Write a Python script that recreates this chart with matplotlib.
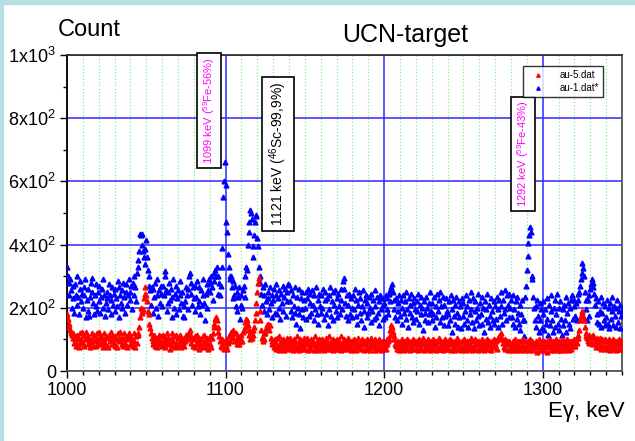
import numpy as np
import matplotlib
matplotlib.use("Agg")
import matplotlib.pyplot as plt
from matplotlib.patches import Rectangle
from matplotlib.ticker import MultipleLocator

plt.rcParams['font.family'] = ['Liberation Sans', 'DejaVu Sans']
plt.rcParams['mathtext.default'] = 'regular'

# energy channels, 0.5 keV step
energy = np.arange(1000.0, 1350.01, 0.5)

# au-1.dat* (blue), counts per channel
au1 = [
    330, 300, 280, 240, 290, 255, 200, 270, 230, 185, 275, 240, 210, 300, 235, 180, 260, 285, 220, 245,
    200, 265, 240, 290, 170, 225, 190, 260, 175, 235, 280, 295, 250, 215, 180, 240, 205, 275, 190, 250,
    220, 270, 185, 235, 260, 200, 290, 240, 175, 215, 250, 230, 195, 275, 240, 180, 225, 265, 210, 245,
    190, 260, 230, 205, 285, 170, 265, 240, 215, 255, 200, 280, 235, 185, 250, 275, 210, 240, 290, 225,
    250, 270, 195, 280, 240, 300, 265, 220, 310, 330, 350, 380, 435, 430, 435, 400, 380, 360, 340, 385,
    415, 360, 320, 300, 270, 255, 210, 265, 185, 260, 235, 280, 200, 240, 290, 175, 255, 215, 245, 270,
    205, 270, 240, 300, 315, 255, 190, 250, 215, 280, 225, 260, 170, 235, 290, 200, 245, 180, 270, 230,
    255, 195, 240, 285, 215, 250, 175, 205, 170, 220, 265, 240, 195, 260, 300, 310, 280, 245, 210, 265,
    230, 270, 190, 235, 285, 205, 265, 220, 180, 255, 210, 240, 290, 215, 160, 245, 275, 200, 255, 290,
    280, 250, 300, 265, 225, 310, 285, 320, 300, 330, 245, 300, 280, 240, 270, 330, 390, 550, 600, 660,
    590, 470, 440, 370, 330, 300, 290, 300, 265, 230, 285, 240, 270, 205, 250, 190, 235, 265, 165, 210,
    240, 200, 255, 270, 235, 300, 330, 320, 400, 440, 470, 510, 500, 480, 360, 395, 430, 470, 495, 490,
    420, 395, 330, 300, 280, 245, 210, 265, 190, 240, 275, 220, 180, 250, 230, 195, 265, 215, 170, 240,
    225, 260, 185, 240, 275, 180, 230, 255, 200, 165, 245, 215, 270, 190, 235, 260, 175, 220, 250, 275,
    272, 220, 190, 255, 170, 240, 205, 265, 185, 150, 235, 200, 260, 180, 135, 230, 195, 250, 170, 225,
    200, 250, 165, 230, 260, 175, 215, 245, 185, 255, 210, 160, 240, 195, 265, 180, 225, 150, 245, 205,
    185, 240, 200, 260, 165, 225, 250, 180, 230, 145, 240, 195, 265, 175, 220, 250, 160, 210, 255, 190,
    230, 170, 245, 205, 180, 260, 225, 195, 285, 295, 260, 215, 175, 240, 160, 210, 245, 180, 230, 200,
    170, 240, 195, 260, 175, 225, 150, 210, 250, 185, 230, 160, 205, 255, 190, 140, 225, 240, 170, 215,
    185, 235, 200, 155, 245, 190, 225, 165, 255, 205, 170, 235, 185, 220, 145, 240, 195, 230, 165, 210,
    215, 170, 240, 195, 230, 180, 245, 220, 255, 265, 275, 250, 225, 195, 170, 230, 160, 215, 190, 240,
    175, 225, 200, 150, 240, 185, 220, 165, 250, 195, 140, 230, 185, 210, 245, 170, 215, 155, 230, 195,
    165, 220, 190, 245, 150, 210, 180, 235, 200, 130, 220, 185, 160, 235, 200, 155, 215, 180, 250, 190,
    160, 215, 180, 235, 140, 205, 170, 245, 190, 225, 155, 250, 205, 170, 235, 145, 210, 175, 230, 190,
    180, 145, 220, 160, 240, 195, 125, 225, 175, 210, 150, 235, 185, 140, 220, 170, 205, 135, 230, 175,
    215, 150, 190, 240, 160, 205, 140, 225, 180, 250, 195, 155, 230, 135, 190, 220, 160, 200, 245, 175,
    145, 215, 180, 235, 150, 200, 125, 220, 165, 195, 245, 155, 210, 175, 140, 230, 190, 160, 220, 150,
    205, 165, 235, 140, 195, 225, 175, 250, 205, 150, 225, 185, 255, 195, 160, 240, 210, 170, 245, 200,
    225, 170, 150, 240, 195, 140, 220, 165, 235, 185, 150, 210, 130, 180, 225, 160, 110, 160, 235, 270,
    320, 365, 405, 430, 456, 440, 300, 290, 235, 200, 160, 205, 140, 225, 175, 125, 215, 160, 195, 135,
    180, 220, 130, 195, 150, 230, 165, 115, 210, 145, 190, 240, 160, 125, 200, 225, 140, 180, 245, 150,
    200, 130, 220, 165, 115, 195, 145, 210, 160, 235, 125, 185, 215, 150, 200, 135, 225, 240, 165, 205,
    225, 175, 215, 160, 225, 245, 250, 270, 290, 310, 342, 325, 300, 250, 225, 195, 160, 225, 175, 240,
    260, 275, 290, 280, 265, 245, 210, 230, 180, 155, 220, 150, 190, 235, 140, 185, 215, 160, 145, 205,
    170, 225, 150, 200, 135, 215, 165, 190, 235, 145, 205, 175, 140, 200, 225, 155, 190, 135, 210, 175,
    190,
]

# au-5.dat (red), counts per channel
au5 = [
    180, 165, 150, 140, 130, 120, 115, 105, 120, 90, 100, 80, 115, 85, 105, 75, 120, 90, 100, 125,
    90, 80, 115, 100, 125, 105, 85, 110, 95, 75, 90, 120, 100, 80, 115, 95, 105, 80, 120, 90,
    105, 125, 85, 110, 90, 75, 100, 120, 90, 110, 80, 105, 75, 115, 95, 125, 100, 85, 110, 90,
    80, 110, 100, 75, 120, 95, 105, 125, 100, 85, 105, 80, 120, 90, 110, 100, 75, 105, 120, 85,
    110, 85, 100, 80, 120, 95, 75, 110, 90, 115, 120, 140, 170, 200, 190, 185, 195, 230, 245, 265,
    240, 220, 190, 180, 150, 135, 120, 105, 95, 85, 115, 80, 105, 90, 75, 100, 115, 85, 95, 110,
    80, 115, 90, 105, 75, 95, 120, 85, 105, 90, 70, 100, 120, 80, 95, 110, 75, 115, 90, 80,
    105, 80, 95, 115, 75, 100, 90, 80, 105, 95, 115, 100, 110, 115, 125, 130, 110, 90, 105, 80,
    100, 75, 110, 85, 115, 95, 70, 105, 85, 100, 75, 110, 85, 115, 95, 75, 105, 85, 70, 100,
    85, 110, 75, 105, 120, 140, 150, 165, 170, 160, 140, 125, 110, 95, 80, 100, 75, 90, 70, 95,
    80, 100, 70, 90, 110, 95, 115, 125, 110, 130, 105, 120, 95, 120, 100, 85, 110, 85, 105, 95,
    115, 95, 125, 130, 140, 155, 165, 160, 145, 130, 115, 100, 125, 105, 130, 115, 140, 160, 185, 215,
    250, 280, 295, 190, 160, 130, 105, 95, 120, 100, 120, 135, 145, 150, 140, 130, 145, 105, 95, 85,
    95, 75, 100, 70, 90, 105, 80, 65, 110, 80, 95, 70, 100, 85, 65, 95, 80, 105, 70, 90,
    80, 105, 70, 95, 85, 65, 100, 80, 95, 70, 110, 80, 90, 65, 100, 85, 70, 95, 80, 105,
    70, 95, 85, 105, 65, 90, 80, 70, 100, 85, 95, 65, 85, 110, 75, 95, 65, 85, 100, 80,
    95, 70, 100, 85, 65, 95, 80, 105, 70, 90, 80, 110, 70, 95, 85, 65, 100, 80, 95, 70,
    85, 100, 70, 95, 80, 110, 65, 90, 85, 70, 100, 80, 95, 70, 85, 105, 75, 95, 65, 85,
    95, 70, 100, 80, 95, 65, 85, 105, 75, 90, 80, 70, 100, 85, 95, 65, 85, 95, 70, 100,
    80, 95, 65, 85, 105, 75, 95, 80, 65, 100, 85, 70, 95, 80, 100, 75, 65, 95, 85, 70,
    95, 80, 70, 100, 85, 95, 100, 115, 130, 145, 140, 125, 110, 100, 85, 80, 70, 95, 80, 65,
    85, 95, 70, 100, 80, 65, 95, 85, 70, 100, 80, 95, 65, 85, 75, 95, 100, 70, 85, 95,
    70, 95, 85, 65, 100, 80, 70, 95, 85, 105, 65, 85, 95, 70, 80, 100, 75, 85, 65, 95,
    85, 70, 100, 80, 95, 65, 85, 95, 70, 105, 80, 70, 95, 85, 65, 95, 80, 100, 70, 85,
    95, 70, 85, 100, 65, 85, 95, 70, 80, 95, 65, 85, 105, 70, 85, 95, 75, 65, 95, 80,
    70, 100, 85, 65, 95, 80, 70, 95, 85, 105, 75, 65, 95, 80, 70, 100, 85, 95, 65, 85,
    95, 75, 85, 100, 70, 85, 65, 95, 80, 70, 100, 85, 95, 70, 85, 65, 95, 80, 100, 75,
    85, 95, 70, 100, 105, 110, 115, 120, 105, 100, 90, 75, 100, 70, 85, 95, 65, 85, 95, 70,
    85, 65, 95, 75, 85, 100, 65, 85, 75, 95, 80, 65, 95, 75, 85, 100, 75, 65, 95, 80,
    70, 95, 85, 65, 100, 75, 85, 95, 65, 85, 75, 95, 85, 60, 85, 100, 75, 85, 65, 95,
    85, 65, 95, 75, 85, 60, 95, 75, 85, 100, 65, 85, 75, 95, 65, 85, 75, 100, 85, 65,
    75, 95, 65, 85, 100, 75, 85, 65, 95, 75, 85, 100, 75, 65, 95, 85, 70, 95, 80, 100,
    90, 80, 100, 90, 105, 115, 130, 160, 175, 185, 190, 175, 160, 140, 120, 110, 105, 95, 90, 115,
    105, 90, 110, 115, 85, 105, 95, 75, 105, 85, 95, 75, 105, 85, 70, 100, 80, 95, 70, 100,
    80, 95, 70, 100, 85, 65, 95, 80, 70, 100, 80, 95, 65, 85, 95, 70, 100, 85, 70, 95,
    85,
]

y_ticks = [0, 200, 400, 600, 800, 1000]
y_labels = ['0', r'2x10$^2$', r'4x10$^2$', r'6x10$^2$', r'8x10$^2$', r'1x10$^3$']
x_ticks = [1000, 1100, 1200, 1300]

# peak labels: (text, x, top y, colour, fontsize)
peak_labels = [
    (r'1099 keV ($^{59}$Fe-56%)', 1089.5, 993, '#ff00ff', 8),
    (r'1121 keV ($^{46}$Sc-99,9%)', 1133.0, 915, 'black', 10),
    (r'1292 keV ($^{59}$Fe-43%)', 1287.5, 855, '#ff00ff', 8),
]

fig = plt.figure(figsize=(6.35, 4.41), dpi=100)
fig.patch.set_facecolor('white')
# light blue frame on top and left edge
fig.patches.append(Rectangle((0, 0.991), 1, 0.009, transform=fig.transFigure,
                             color='#b8e0e4', zorder=0))
fig.patches.append(Rectangle((0, 0), 0.004, 1, transform=fig.transFigure,
                             color='#b8e0e4', zorder=0))

ax = fig.add_axes([0.1055, 0.1587, 0.874, 0.7166])

ax.plot(energy, au1, linestyle='none', marker='^', markersize=3.5,
        color='blue', label='au-1.dat*', zorder=3)
ax.plot(energy, au5, linestyle='none', marker='^', markersize=3.5,
        color='red', label='au-5.dat', zorder=4)

ax.set_xlim(1000, 1350)
ax.set_ylim(0, 1000)
ax.set_xticks(x_ticks)
ax.set_xticklabels([str(t) for t in x_ticks], fontsize=13)
ax.set_yticks(y_ticks)
ax.set_yticklabels(y_labels, fontsize=13)
ax.xaxis.set_minor_locator(MultipleLocator(10))
ax.yaxis.set_minor_locator(MultipleLocator(100))
ax.tick_params(which='major', direction='out', length=5, width=1, top=False, right=False, pad=3)
ax.tick_params(which='minor', direction='out', length=3, width=1, top=False, right=False)

# grids
ax.grid(which='minor', axis='x', color='#88ee88', linestyle=':', linewidth=0.9, zorder=0)
ax.grid(which='major', axis='both', color='#2a2aff', linestyle='-', linewidth=1.1, zorder=1)
ax.set_axisbelow(True)

for side in ['left', 'bottom', 'top', 'right']:
    ax.spines[side].set_linewidth(1.3)
ax.spines['left'].set_color('black')
ax.spines['top'].set_color('#333333')
ax.spines['right'].set_color('#555555')
ax.spines['bottom'].set_color('#555555')

for text, xx, yy, col, fs in peak_labels:
    ax.text(xx, yy, text, rotation=90, ha='center', va='top', color=col, fontsize=fs,
            zorder=6, bbox=dict(boxstyle='square,pad=0.35', fc='white', ec='black', lw=1.2))

handles, labels = ax.get_legend_handles_labels()
leg = ax.legend(handles[::-1], labels[::-1], loc='upper right', bbox_to_anchor=(0.975, 0.98),
                fontsize=7, markerscale=0.7, frameon=True, fancybox=False, handletextpad=1.2,
                borderpad=0.4, labelspacing=0.3, handlelength=2.2)
leg.get_frame().set_edgecolor('black')
leg.get_frame().set_linewidth(1.0)
leg.set_zorder(7)

fig.text(0.140, 0.932, 'Count', fontsize=17, ha='center', va='center')
fig.text(0.638, 0.920, 'UCN-target', fontsize=18, ha='center', va='center')
fig.text(0.984, 0.066, 'Eγ, keV', fontsize=16, ha='right', va='center')

fig.savefig('out.png', dpi=100)
